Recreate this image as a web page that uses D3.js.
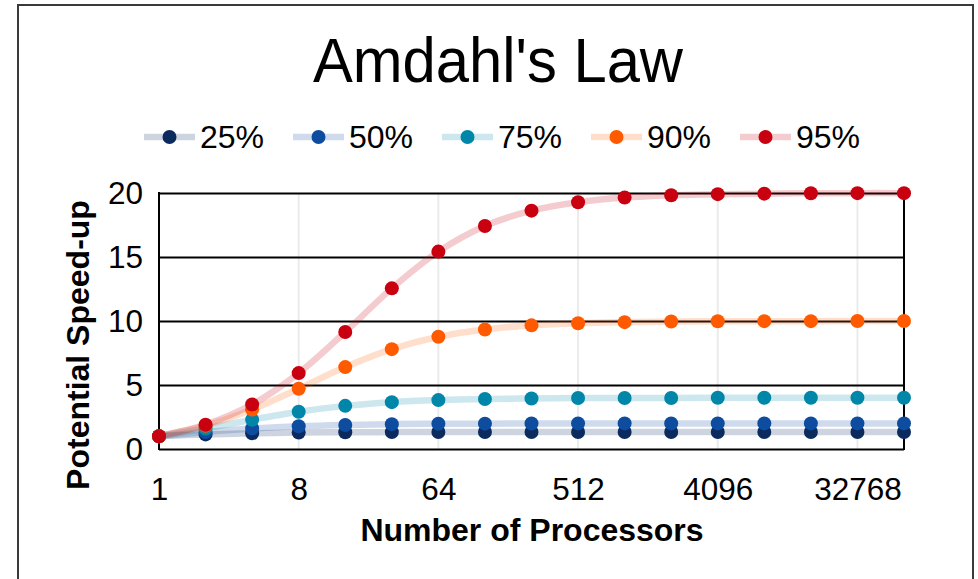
<!DOCTYPE html>
<html>
<head>
<meta charset="utf-8">
<script src="https://cdn.jsdelivr.net/npm/d3@7"></script>
<style>
  html, body { margin: 0; padding: 0; background: #fff; }
  svg { display: block; font-family: "Liberation Sans", Arial, sans-serif; }
</style>
</head>
<body>
<div id="chart"></div>
<script>
// DATA
const processors = ['1', '2', '4', '8', '16', '32', '64', '128', '256', '512', '1024',
                    '2048', '4096', '8192', '16384', '32768', '65536'];
const tickLabels = ['1', '8', '64', '512', '4096', '32768'];
const yTicks = [0, 5, 10, 15, 20];
const seriesNames = ['25%', '50%', '75%', '90%', '95%'];
const p25 = [1, 1.14, 1.23, 1.28, 1.31, 1.32, 1.33, 1.33, 1.33, 1.33, 1.33, 1.33, 1.33, 1.33, 1.33, 1.33, 1.33];
const p50 = [1, 1.33, 1.6, 1.78, 1.88, 1.94, 1.97, 1.98, 1.99, 2, 2, 2, 2, 2, 2, 2, 2];
const p75 = [1, 1.6, 2.29, 2.91, 3.37, 3.66, 3.82, 3.91, 3.95, 3.98, 3.99, 3.99, 4, 4, 4, 4, 4];
const p90 = [1, 1.82, 3.08, 4.71, 6.4, 7.8, 8.77, 9.34, 9.66, 9.83, 9.91, 9.96, 9.98, 9.99, 9.99, 10, 10];
const p95 = [1, 1.9, 3.48, 5.93, 9.14, 12.55, 15.42, 17.42, 18.62, 19.28, 19.64, 19.82, 19.91, 19.95, 19.98, 19.99, 19.99];
const seriesValues = [p25, p50, p75, p90, p95];
const colors = ['#0b2a5e', '#0d4c9e', '#0086a8', '#ff5a00', '#c8000f'];

const width = 978, height = 579;
const margin = { top: 193, right: 74, bottom: 130, left: 159 };

const svg = d3.select('#chart').append('svg')
    .attr('width', width)
    .attr('height', height);

// outer frame
svg.append('rect')
    .attr('x', 18).attr('y', 5)
    .attr('width', 955).attr('height', 600)
    .attr('fill', '#fff')
    .attr('stroke', '#3a3a3a')
    .attr('stroke-width', 2);

const x = d3.scalePoint()
    .domain(processors)
    .range([margin.left, width - margin.right]);

const y = d3.scaleLinear()
    .domain([0, 20])
    .range([height - margin.bottom, margin.top]);

// TITLE
svg.append('text')
    .attr('x', 498).attr('y', 82)
    .attr('text-anchor', 'middle')
    .attr('font-size', 63)
    .attr('textLength', 370)
    .attr('lengthAdjust', 'spacingAndGlyphs')
    .text("Amdahl's Law");

// vertical light gridlines
svg.append('g')
    .selectAll('line')
    .data(tickLabels.slice(1))
    .join('line')
    .attr('x1', d => x(d)).attr('x2', d => x(d))
    .attr('y1', y(20)).attr('y2', y(0))
    .attr('stroke', '#ebebeb')
    .attr('stroke-width', 2);

// horizontal gridlines
svg.append('g')
    .attr('transform', `translate(${margin.left},0)`)
    .call(d3.axisLeft(y).tickValues(yTicks).tickSize(-(width - margin.left - margin.right)).tickFormat(''))
    .call(g => g.select('.domain').remove())
    .selectAll('line')
    .attr('stroke', '#000')
    .attr('stroke-width', 2);

// y tick labels
svg.append('g')
    .attr('transform', `translate(143,0)`)
    .call(d3.axisLeft(y).tickValues(yTicks).tickSize(0).tickPadding(0))
    .call(g => g.select('.domain').remove())
    .selectAll('text')
    .attr('font-size', 31.5)
    .attr('font-family', '"Liberation Sans", Arial, sans-serif')
    .attr('fill', '#000');

// x axis labels
svg.append('g')
    .attr('transform', `translate(0,${y(0)})`)
    .call(d3.axisBottom(x).tickValues(tickLabels).tickSize(0).tickPadding(28.5))
    .call(g => g.select('.domain').remove())
    .selectAll('text')
    .attr('font-size', 31.5)
    .attr('font-family', '"Liberation Sans", Arial, sans-serif')
    .attr('fill', '#000');

// axis frame: left and right
svg.append('line')
    .attr('x1', margin.left).attr('x2', margin.left)
    .attr('y1', y(20) - 1).attr('y2', y(0) + 1)
    .attr('stroke', '#000').attr('stroke-width', 2);
svg.append('line')
    .attr('x1', width - margin.right).attr('x2', width - margin.right)
    .attr('y1', y(20) - 1).attr('y2', y(0) + 1)
    .attr('stroke', '#000').attr('stroke-width', 2);

// SERIES
const line = d3.line()
    .x((d, i) => x(processors[i]))
    .y(d => y(d))
    .curve(d3.curveCatmullRom.alpha(0.5));

seriesValues.forEach((vals, s) => {
    const g = svg.append('g');
    g.append('path')
        .datum(vals)
        .attr('d', line)
        .attr('fill', 'none')
        .attr('stroke', colors[s])
        .attr('stroke-opacity', 0.2)
        .attr('stroke-width', 6.5)
        .attr('stroke-linecap', 'round');
    g.selectAll('circle')
        .data(vals)
        .join('circle')
        .attr('cx', (d, i) => x(processors[i]))
        .attr('cy', d => y(d))
        .attr('r', 7)
        .attr('fill', colors[s]);
});

// LEGEND
const legend = svg.append('g')
    .selectAll('g')
    .data(seriesNames)
    .join('g')
    .attr('transform', (d, i) => `translate(${144 + i * 149},137)`);
legend.append('line')
    .attr('x1', 0).attr('x2', 51)
    .attr('stroke', (d, i) => colors[i])
    .attr('stroke-opacity', 0.2)
    .attr('stroke-width', 6.5);
legend.append('circle')
    .attr('cx', 25.5).attr('r', 7)
    .attr('fill', (d, i) => colors[i]);
legend.append('text')
    .attr('x', 56).attr('y', 11)
    .attr('font-size', 32)
    .text(d => d);

// AXIS TITLES
svg.append('text')
    .attr('transform', `translate(89,345) rotate(-90)`)
    .attr('text-anchor', 'middle')
    .attr('font-size', 32)
    .attr('font-weight', 'bold')
    .text('Potential Speed-up');

svg.append('text')
    .attr('x', 532).attr('y', 541)
    .attr('text-anchor', 'middle')
    .attr('font-size', 32)
    .attr('font-weight', 'bold')
    .text('Number of Processors');
</script>
</body>
</html>
